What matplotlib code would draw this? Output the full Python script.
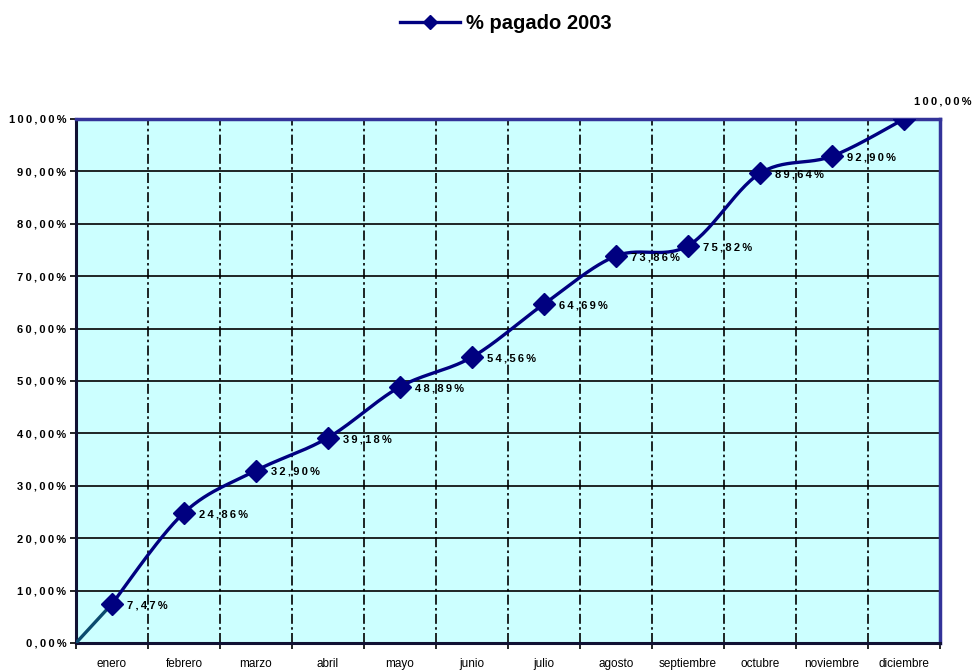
import numpy as np
import matplotlib
matplotlib.use("Agg")
import matplotlib.pyplot as plt
from matplotlib.lines import Line2D

months = ["enero", "febrero", "marzo", "abril", "mayo", "junio", "julio",
          "agosto", "septiembre", "octubre", "noviembre", "diciembre"]
pagado = [7.47, 24.86, 32.90, 39.18, 48.89, 54.56, 64.69, 73.86, 75.82,
          89.64, 92.90, 100.00]
start_value = 0.0
series_name = "% pagado 2003"

NAVY = "#000080"
BORDER = "#333399"


def smooth(xs, ys, n=30):
    # bezier smoothing through points (like Excel's smoothed line)
    xs = np.asarray(xs, float)
    ys = np.asarray(ys, float)
    px = np.concatenate([[xs[0]], xs, [xs[-1]]])
    py = np.concatenate([[ys[0]], ys, [ys[-1]]])
    outx, outy = [], []
    t = np.linspace(0, 1, n)
    for i in range(1, len(px) - 2):
        p0 = np.array([px[i], py[i]])
        p3 = np.array([px[i + 1], py[i + 1]])
        c1 = p0 + (p3 - np.array([px[i - 1], py[i - 1]])) / 6
        c2 = p3 - (np.array([px[i + 2], py[i + 2]]) - p0) / 6
        b = ((1 - t) ** 3)[:, None] * p0 + (3 * (1 - t) ** 2 * t)[:, None] * c1 \
            + (3 * (1 - t) * t ** 2)[:, None] * c2 + (t ** 3)[:, None] * p3
        outx.extend(b[:, 0])
        outy.extend(b[:, 1])
    return np.array(outx), np.array(outy)


def fmt(v):
    # comma decimals, spread out letters like the excel export
    s = f"{v:.2f}".replace(".", ",") + "%"
    return "\u2009".join(s)


plt.rcParams["font.family"] = ["Liberation Sans", "DejaVu Sans"]

fig = plt.figure(figsize=(9.73, 6.71), dpi=100)
ax = fig.add_axes([76 / 973, 28 / 671, 864 / 973, 524 / 671])
ax.set_facecolor("#CCFFFF")

x = np.arange(len(months)) + 0.5

# straight segment from origin to first month
ax.plot([0, x[0]], [start_value, pagado[0]], color="#0B4A6E", lw=2.4,
        solid_capstyle="butt", zorder=3)
sx, sy = smooth(x, pagado)
ax.plot(sx, sy, color=NAVY, lw=2.4, zorder=3)
ax.plot(x, pagado, linestyle="none", marker="D", ms=11, color=NAVY, zorder=4)

for xi, v in zip(x, pagado):
    if v >= 100:
        ax.annotate(fmt(v), (xi, v), xytext=(7, 9), textcoords="offset points",
                    fontsize=8, fontweight="bold", ha="left", va="bottom",
                    annotation_clip=False)
    else:
        ax.annotate(fmt(v), (xi, v), xytext=(11, -1), textcoords="offset points",
                    fontsize=8, fontweight="bold", ha="left", va="center")

ax.set_xlim(0, len(months))
ax.set_ylim(0, 100)

ax.set_yticks(np.arange(0, 101, 10))
ax.set_yticklabels([fmt(v) for v in np.arange(0, 101, 10)], fontsize=8,
                   fontweight="bold")
ax.yaxis.grid(True, color="black", lw=1.2, linestyle="-")

ax.set_xticks(np.arange(0, len(months) + 1))
ax.set_xticklabels([])
ax.set_xticks(x, minor=True)
ax.set_xticklabels(months, minor=True, fontsize=8.5)
ax.tick_params(axis="x", which="minor", length=0, pad=11)
ax.tick_params(axis="x", which="major", length=4, width=1.2)
ax.tick_params(axis="y", length=4, width=1.2, pad=3)
for b in np.arange(1, len(months)):
    ax.axvline(b, color="black", lw=1.2, linestyle=(0, (6, 2, 1.5, 2)), zorder=1)
ax.set_axisbelow(True)

for side in ["top", "right"]:
    ax.spines[side].set_color(BORDER)
    ax.spines[side].set_linewidth(2.5)
for side in ["left", "bottom"]:
    ax.spines[side].set_color("#111133")
    ax.spines[side].set_linewidth(2.2)

handle = Line2D([], [], color=NAVY, lw=2.4, marker="D", ms=7)
fig.legend([handle], [series_name], loc="center", bbox_to_anchor=(0.52, 0.965),
           frameon=False, prop={"weight": "bold", "size": 14.5}, handlelength=3.0,
           handletextpad=0.3)

fig.savefig("out.png", dpi=100)
